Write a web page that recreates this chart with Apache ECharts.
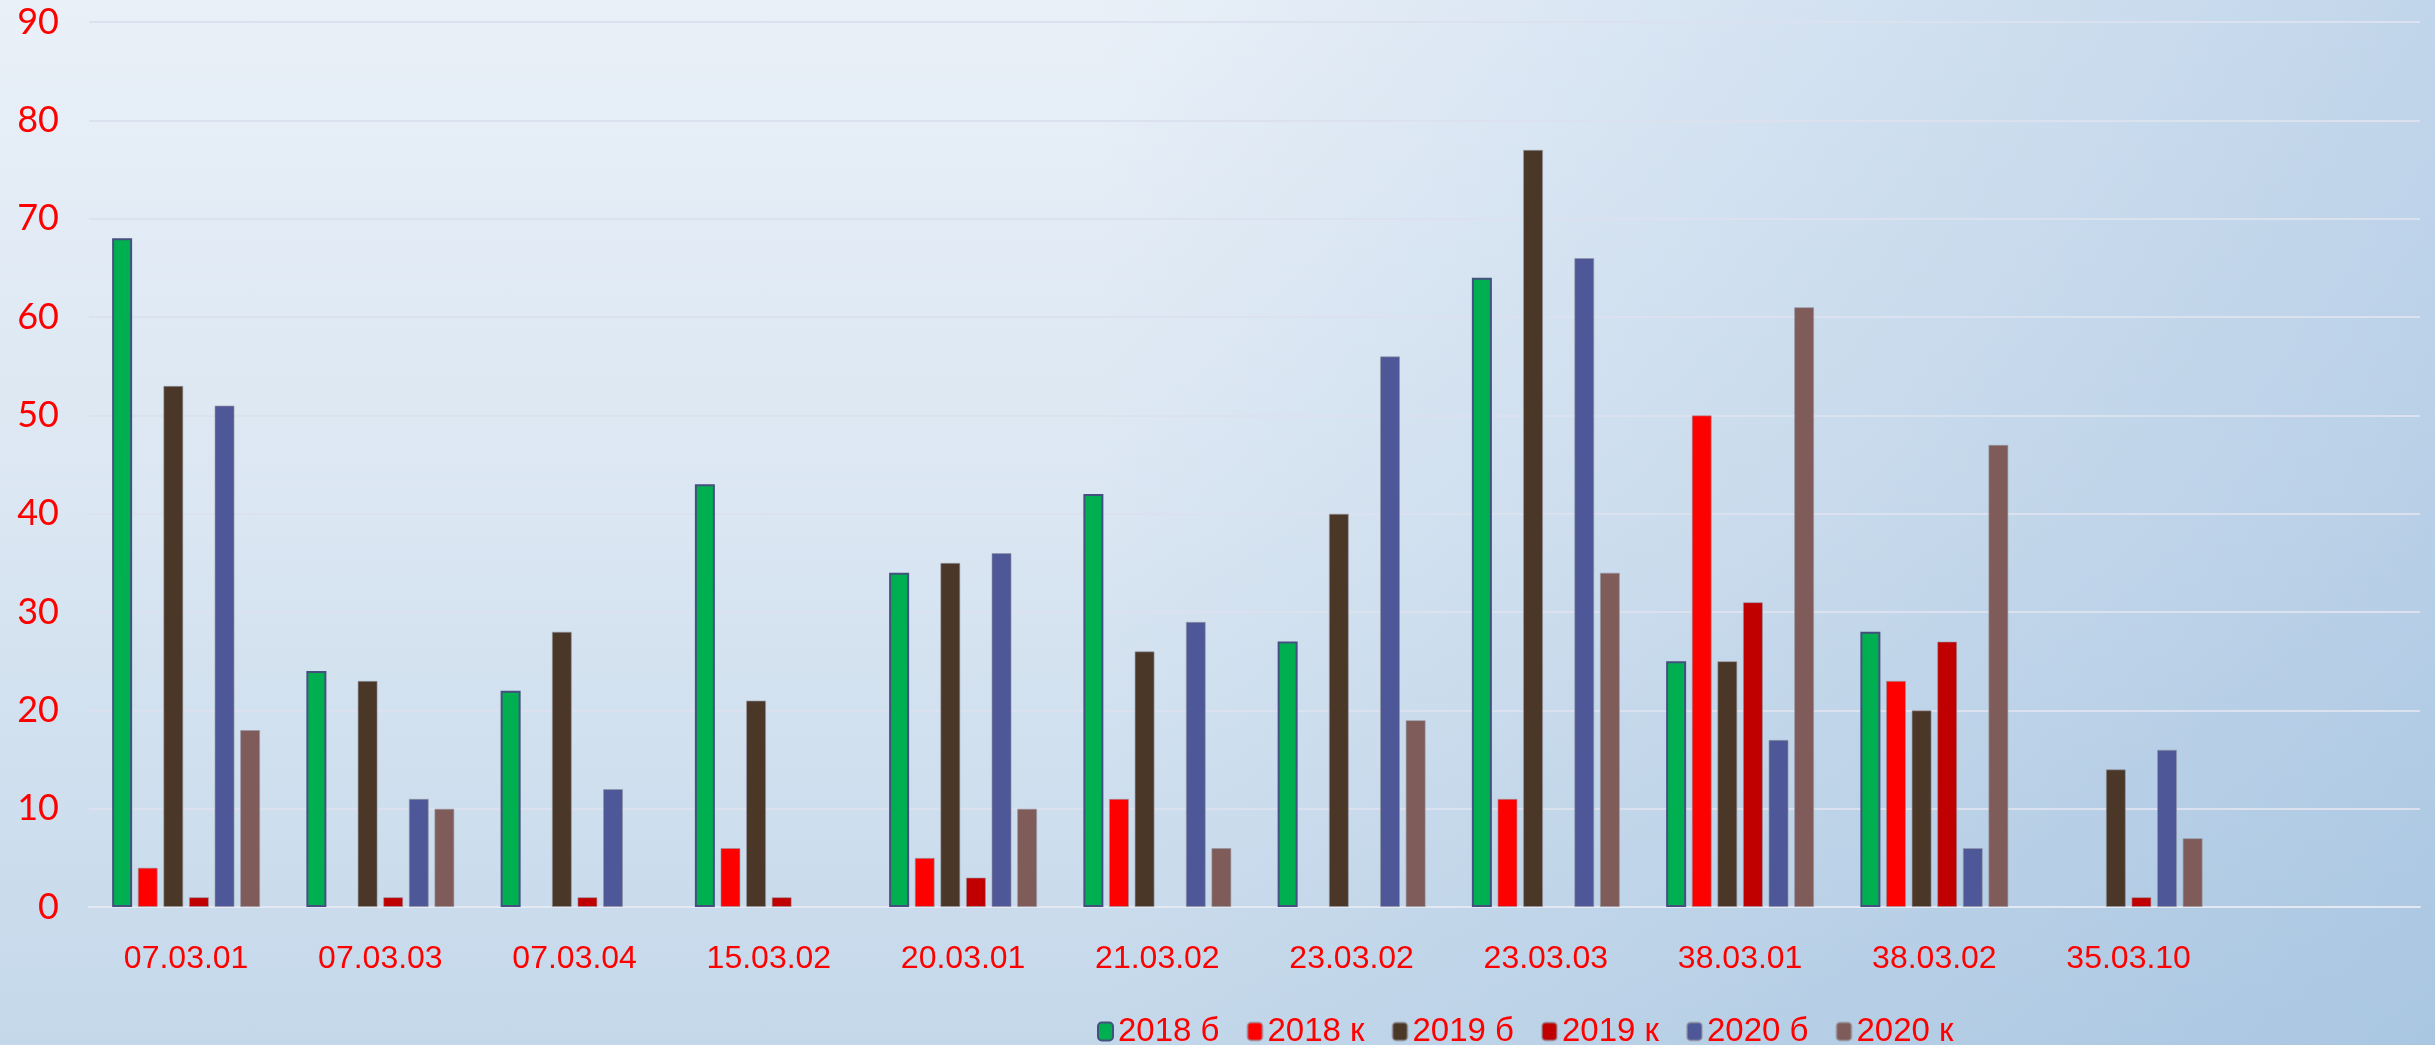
<!DOCTYPE html>
<html>
<head>
<meta charset="utf-8">
<script src="https://cdn.jsdelivr.net/npm/echarts@6/dist/echarts.min.js"></script>
<style>
  html, body { margin: 0; padding: 0; }
  #chart {
    width: 2435px; height: 1045px;
    background:
      linear-gradient(to right, rgba(120,165,210,0) 45%, rgba(120,165,210,0.35) 100%),
      linear-gradient(to bottom, #e9f0f8 0%, #dae6f2 50%, #c4d8ea 100%);
  }
</style>
</head>
<body>
<div id="chart"></div>
<script>
// категории (последняя пустая)
const categories = ['07.03.01', '07.03.03', '07.03.04', '15.03.02', '20.03.01', '21.03.02',
    '23.03.02', '23.03.03', '38.03.01', '38.03.02', '35.03.10', ''];

const s2018b = [68, 24, 22, 43, 34, 42, 27, 64, 25, 28, 0, null];
const s2018k = [4, 0, 0, 6, 5, 11, 0, 11, 50, 23, 0, null];
const s2019b = [53, 23, 28, 21, 35, 26, 40, 77, 25, 20, 14, null];
const s2019k = [1, 1, 1, 1, 3, 0, 0, 0, 31, 27, 1, null];
const s2020b = [51, 11, 12, 0, 36, 29, 56, 66, 17, 6, 16, null];
const s2020k = [18, 10, 0, 0, 10, 6, 19, 34, 61, 47, 7, null];

const seriesNames = ['2018 б', '2018 к', '2019 б', '2019 к', '2020 б', '2020 к'];
const seriesData = [s2018b, s2018k, s2019b, s2019k, s2020b, s2020k];
const colors = ['#00b050', '#ff0000', '#4a3728', '#c00000', '#4e5797', '#7f5c5a'];

const chart = echarts.init(document.getElementById('chart'));

const series = seriesNames.map(function (name, i) {
    return {
        name: name,
        type: 'bar',
        barWidth: 20,
        barGap: '28%',
        data: seriesData[i].map(function (v) {
            // нулевые столбцы без рамки
            if (v === 0) {
                return {value: v, itemStyle: {borderWidth: 0}};
            }
            return v;
        }),
        itemStyle: {
            color: colors[i],
            borderColor: i === 0 ? '#44507f' : 'rgba(150,150,160,0.6)',
            borderWidth: i === 0 ? 2 : 1
        }
    };
});

const option = {
    backgroundColor: 'transparent',
    animation: false,
    grid: {
        left: 89,
        right: 15,
        top: 22,
        bottom: 138
    },
    legend: {
        data: seriesNames,
        left: 1092,
        top: 1010,
        itemWidth: 15,
        itemHeight: 18,
        itemGap: 27,
        textStyle: {
            color: '#ff0000',
            fontSize: 33,
            fontFamily: 'Liberation Sans'
        }
    },
    xAxis: {
        type: 'category',
        data: categories,
        axisLine: {lineStyle: {color: '#e3e8f2', width: 2}},
        axisTick: {show: false},
        axisLabel: {
            color: '#ff0000',
            fontSize: 32,
            margin: 36,
            fontFamily: 'Liberation Sans'
        }
    },
    yAxis: {
        type: 'value',
        min: 0,
        max: 90,
        interval: 10,
        axisLine: {show: false},
        axisTick: {show: false},
        splitLine: {lineStyle: {color: '#dbe1ee', width: 2}},
        axisLabel: {
            color: '#ff0000',
            fontSize: 36,
            margin: 30,
            fontFamily: 'Lato'
        }
    },
    series: series
};

chart.setOption(option);
</script>
</body>
</html>
